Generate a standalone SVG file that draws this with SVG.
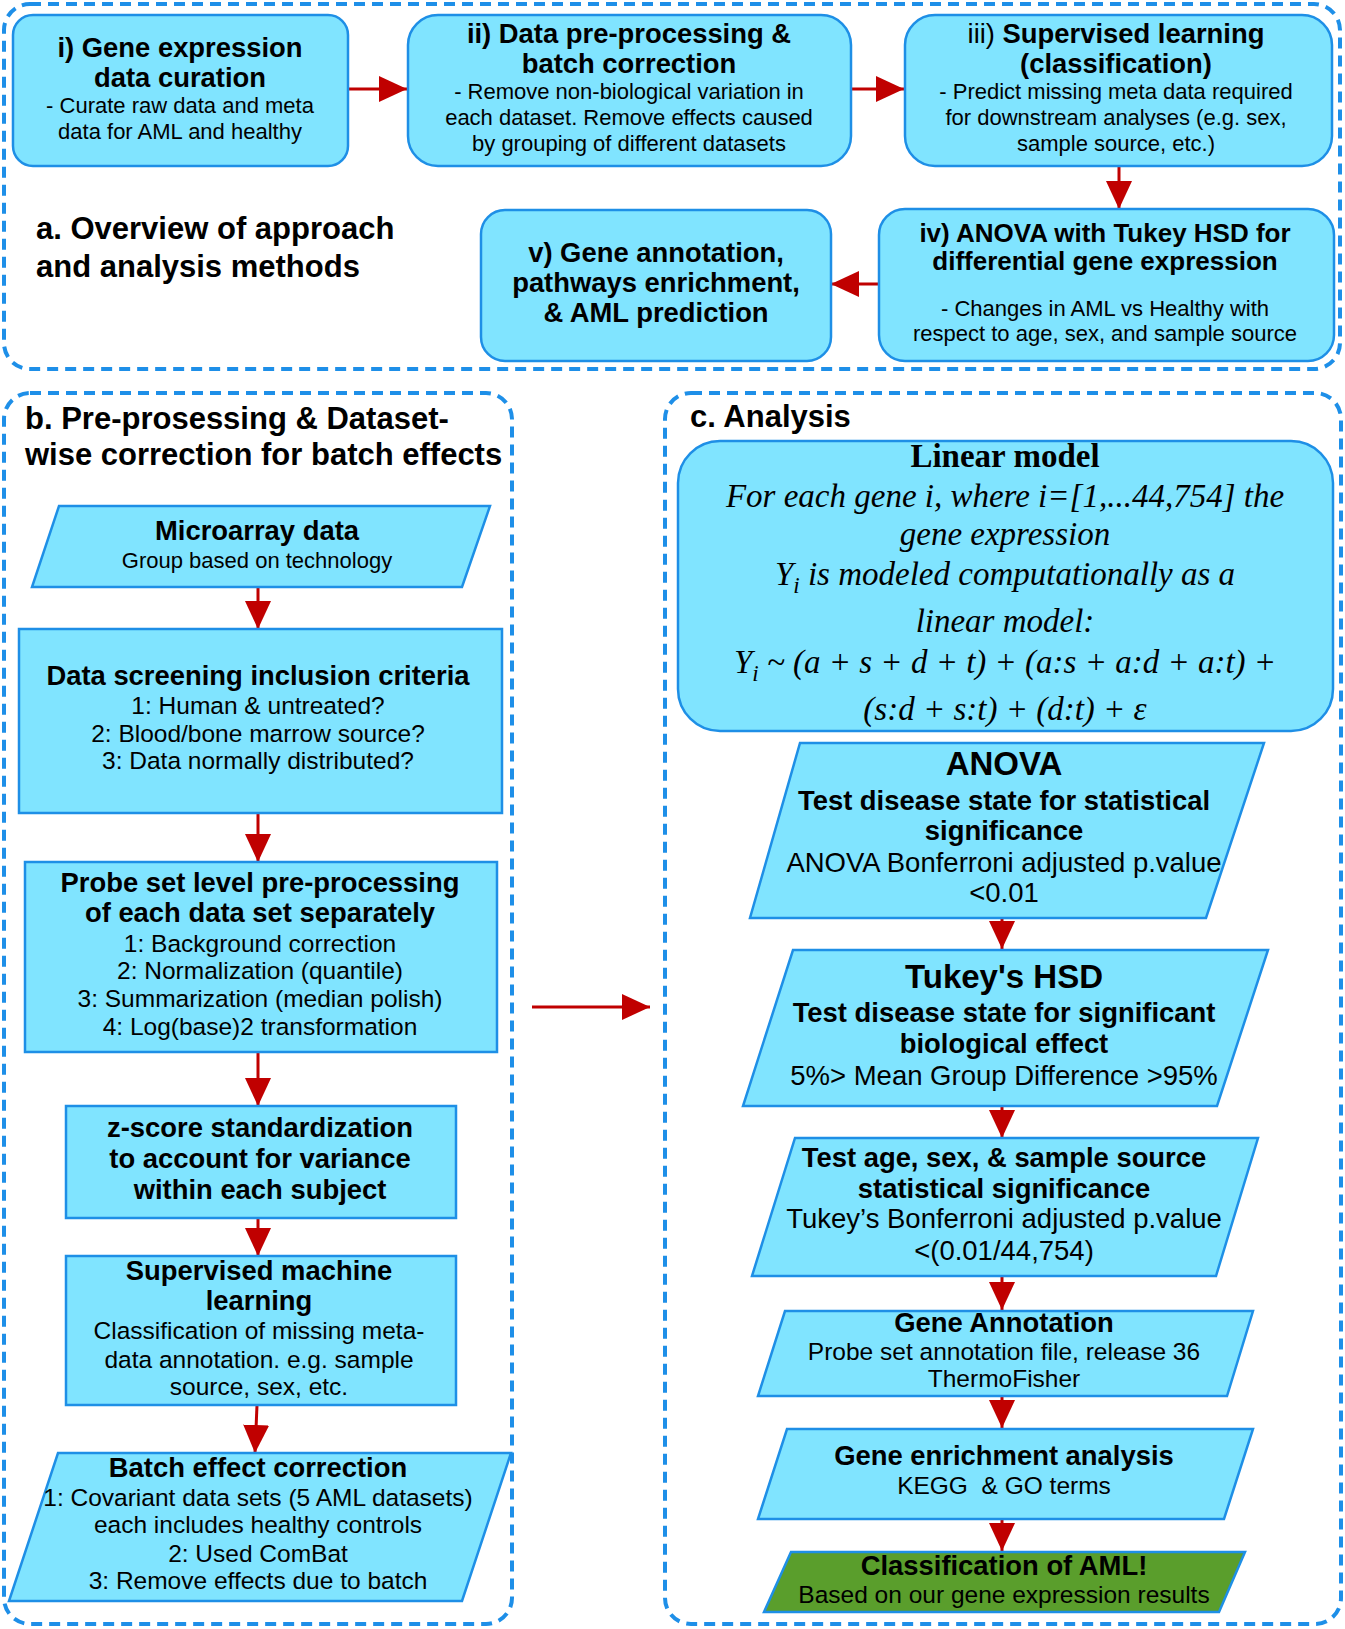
<svg xmlns="http://www.w3.org/2000/svg" width="1345" height="1629" viewBox="0 0 1345 1629">
<style>
.n{fill:#80E4FF;stroke:#1E8FE6;stroke-width:2.5}
.g{fill:#5A9E2C;stroke:#1E8FE6;stroke-width:2.5}
.d{fill:none;stroke:#1E8FE8;stroke-width:4;stroke-dasharray:11 7}
text{font-family:"Liberation Sans",Arial,Helvetica,sans-serif;fill:#000}
.t{font-weight:bold;font-size:27.4px;text-anchor:middle}
.t26{font-weight:bold;font-size:26px;text-anchor:middle}
.s{font-size:22px;text-anchor:middle}
.s24{font-size:24.5px;text-anchor:middle}
.s27{font-size:27.5px;text-anchor:middle}
.h{font-weight:bold;font-size:31px}
.b33{font-weight:bold;font-size:33px;text-anchor:middle}
.m{font-family:"Liberation Serif","Times New Roman",serif;font-style:italic;font-size:33px;text-anchor:middle}
.mb{font-family:"Liberation Serif","Times New Roman",serif;font-weight:bold;font-size:33px;text-anchor:middle}
.e{fill:none;stroke:#C00000;stroke-width:3}
</style>
<defs>
<marker id="ah" markerUnits="userSpaceOnUse" markerWidth="28" markerHeight="26" viewBox="0 0 28 26" refX="28" refY="13" orient="auto">
<path d="M0,0 L28,13 L0,26 z" fill="#C00000"/>
</marker>
</defs>
<rect width="1345" height="1629" fill="#fff"/>

<g id="frames">
<rect class="d" x="4" y="4" width="1336" height="365" rx="26"/>
<rect class="d" x="4" y="393" width="508" height="1231" rx="26"/>
<rect class="d" x="665" y="393" width="676" height="1231" rx="26"/>
<text class="h" x="36" y="239">a. Overview of approach</text>
<text class="h" x="36" y="277">and analysis methods</text>
<text class="h" x="25" y="429">b. Pre-prosessing &amp; Dataset-</text>
<text class="h" x="25" y="465">wise correction for batch effects</text>
<text class="h" x="690" y="427">c. Analysis</text>
</g>

<g id="connectors">
<path class="e" d="M348,89 L407,89" marker-end="url(#ah)"/>
<path class="e" d="M851,89 L904,89" marker-end="url(#ah)"/>
<path class="e" d="M1119,166 L1119,209" marker-end="url(#ah)"/>
<path class="e" d="M879,284 L831,284" marker-end="url(#ah)"/>
<path class="e" d="M258,587 L258,629" marker-end="url(#ah)"/>
<path class="e" d="M258,813 L258,862" marker-end="url(#ah)"/>
<path class="e" d="M258,1052 L258,1106" marker-end="url(#ah)"/>
<path class="e" d="M258,1218 L258,1256" marker-end="url(#ah)"/>
<path class="e" d="M257,1405 L255,1453" marker-end="url(#ah)"/>
<path class="e" d="M532,1007 L650,1007" marker-end="url(#ah)"/>
<path class="e" d="M1002,917 L1002,949" marker-end="url(#ah)"/>
<path class="e" d="M1002,1106 L1002,1138" marker-end="url(#ah)"/>
<path class="e" d="M1002,1276 L1002,1310" marker-end="url(#ah)"/>
<path class="e" d="M1002,1396 L1002,1428" marker-end="url(#ah)"/>
<path class="e" d="M1002,1519 L1002,1551" marker-end="url(#ah)"/>
</g>

<g id="n-i">
<rect class="n" x="13" y="15" width="335" height="151" rx="20"/>
<text class="t" x="180" y="57">i) Gene expression</text>
<text class="t" x="180" y="87">data curation</text>
<text class="s" x="180" y="113">- Curate raw data and meta</text>
<text class="s" x="180" y="139">data for AML and healthy</text>
</g>

<g id="n-ii">
<rect class="n" x="408" y="15" width="443" height="151" rx="30"/>
<text class="t" x="629" y="43">ii) Data pre-processing &amp;</text>
<text class="t" x="629" y="73">batch correction</text>
<text class="s" x="629" y="99">- Remove non-biological variation in</text>
<text class="s" x="629" y="125">each dataset. Remove effects caused</text>
<text class="s" x="629" y="151">by grouping of different datasets</text>
</g>

<g id="n-iii">
<rect class="n" x="905" y="15" width="427" height="151" rx="30"/>
<text class="t" x="1116" y="43"><tspan font-weight="normal">iii)</tspan> Supervised learning</text>
<text class="t" x="1116" y="73">(classification)</text>
<text class="s" x="1116" y="99">- Predict missing meta data required</text>
<text class="s" x="1116" y="125">for downstream analyses (e.g. sex,</text>
<text class="s" x="1116" y="151">sample source, etc.)</text>
</g>

<g id="n-iv">
<rect class="n" x="879" y="209" width="455" height="152" rx="26"/>
<text class="t26" x="1105" y="242">iv) ANOVA with Tukey HSD for</text>
<text class="t26" x="1105" y="270">differential gene expression</text>
<text class="s" x="1105" y="316">- Changes in AML vs Healthy with</text>
<text class="s" x="1105" y="341">respect to age, sex, and sample source</text>
</g>

<g id="n-v">
<rect class="n" x="481" y="210" width="350" height="151" rx="24"/>
<text class="t" x="656" y="262">v) Gene annotation,</text>
<text class="t" x="656" y="292">pathways enrichment,</text>
<text class="t" x="656" y="322">&amp; AML prediction</text>
</g>

<g id="n-micro">
<path class="n" d="M59,506 L490,506 L462,587 L32,587 z"/>
<text class="t" x="257" y="540">Microarray data</text>
<text class="s" x="257" y="568">Group based on technology</text>
</g>

<g id="n-screen">
<rect class="n" x="19" y="629" width="483" height="184"/>
<text class="t" x="258" y="685">Data screening inclusion criteria</text>
<text class="s24" x="258" y="714">1: Human &amp; untreated?</text>
<text class="s24" x="258" y="742">2: Blood/bone marrow source?</text>
<text class="s24" x="258" y="769">3: Data normally distributed?</text>
</g>

<g id="n-probe">
<rect class="n" x="25" y="862" width="472" height="190"/>
<text class="t" x="260" y="892">Probe set level pre-processing</text>
<text class="t" x="260" y="922">of each data set separately</text>
<text class="s24" x="260" y="952">1: Background correction</text>
<text class="s24" x="260" y="979">2: Normalization (quantile)</text>
<text class="s24" x="260" y="1007">3: Summarization (median polish)</text>
<text class="s24" x="260" y="1035">4: Log(base)2 transformation</text>
</g>

<g id="n-z">
<rect class="n" x="66" y="1106" width="390" height="112"/>
<text class="t" x="260" y="1137">z-score standardization</text>
<text class="t" x="260" y="1168">to account for variance</text>
<text class="t" x="260" y="1199">within each subject</text>
</g>

<g id="n-sml">
<rect class="n" x="66" y="1256" width="390" height="149"/>
<text class="t" x="259" y="1280">Supervised machine</text>
<text class="t" x="259" y="1310">learning</text>
<text class="s24" x="259" y="1339">Classification of missing meta-</text>
<text class="s24" x="259" y="1368">data annotation. e.g. sample</text>
<text class="s24" x="259" y="1395">source, sex, etc.</text>
</g>

<g id="n-batch">
<path class="n" d="M58,1453 L511,1453 L462,1601 L9,1601 z"/>
<text class="t" x="258" y="1477">Batch effect correction</text>
<text class="s24" x="258" y="1506">1: Covariant data sets (5 AML datasets)</text>
<text class="s24" x="258" y="1533">each includes healthy controls</text>
<text class="s24" x="258" y="1562">2: Used ComBat</text>
<text class="s24" x="258" y="1589">3: Remove effects due to batch</text>
</g>

<g id="n-linear">
<rect class="n" x="678" y="441" width="655" height="290" rx="42"/>
<text class="mb" x="1005" y="467">Linear model</text>
<text class="m" x="1005" y="507">For each gene i, where i=[1,...44,754] the</text>
<text class="m" x="1005" y="545">gene expression</text>
<text class="m" x="1005" y="585">Y<tspan font-size="23" dy="8">i</tspan><tspan dy="-8"> is modeled computationally as a</tspan></text>
<text class="m" x="1005" y="632">linear model:</text>
<text class="m" x="1005" y="673">Y<tspan font-size="23" dy="8">i</tspan><tspan dy="-8"> ~ (a + s + d + t) + (a:s + a:d + a:t) +</tspan></text>
<text class="m" x="1005" y="720">(s:d + s:t) + (d:t) + ε</text>
</g>

<g id="n-anova">
<path class="n" d="M800,743 L1264,743 L1206,918 L750,918 z"/>
<text class="b33" x="1004" y="775">ANOVA</text>
<text class="t" x="1004" y="810">Test disease state for statistical</text>
<text class="t" x="1004" y="840">significance</text>
<text class="s27" x="1004" y="872">ANOVA Bonferroni adjusted p.value</text>
<text class="s27" x="1004" y="902">&lt;0.01</text>
</g>

<g id="n-tukey">
<path class="n" d="M793,950 L1268,950 L1217,1106 L743,1106 z"/>
<text class="b33" x="1004" y="988">Tukey's HSD</text>
<text class="t" x="1004" y="1022">Test disease state for significant</text>
<text class="t" x="1004" y="1053">biological effect</text>
<text class="s27" x="1004" y="1085">5%&gt; Mean Group Difference &gt;95%</text>
</g>

<g id="n-test">
<path class="n" d="M795,1138 L1258,1138 L1216,1276 L752,1276 z"/>
<text class="t" x="1004" y="1167">Test age, sex, &amp; sample source</text>
<text class="t" x="1004" y="1198">statistical significance</text>
<text class="s27" x="1004" y="1228">Tukey’s Bonferroni adjusted p.value</text>
<text class="s27" x="1004" y="1260">&lt;(0.01/44,754)</text>
</g>

<g id="n-annot">
<path class="n" d="M785,1311 L1253,1311 L1227,1396 L758,1396 z"/>
<text class="t" x="1004" y="1332">Gene Annotation</text>
<text class="s24" x="1004" y="1360">Probe set annotation file, release 36</text>
<text class="s24" x="1004" y="1387">ThermoFisher</text>
</g>

<g id="n-enrich">
<path class="n" d="M787,1429 L1253,1429 L1224,1519 L758,1519 z"/>
<text class="t" x="1004" y="1465">Gene enrichment analysis</text>
<text class="s24" x="1004" y="1494" xml:space="preserve">KEGG  &amp; GO terms</text>
</g>

<g id="n-class">
<path class="g" d="M791,1552 L1245,1552 L1219,1612 L764,1612 z"/>
<text class="t" x="1004" y="1575">Classification of AML!</text>
<text class="s24" x="1004" y="1603">Based on our gene expression results</text>
</g>
</svg>
